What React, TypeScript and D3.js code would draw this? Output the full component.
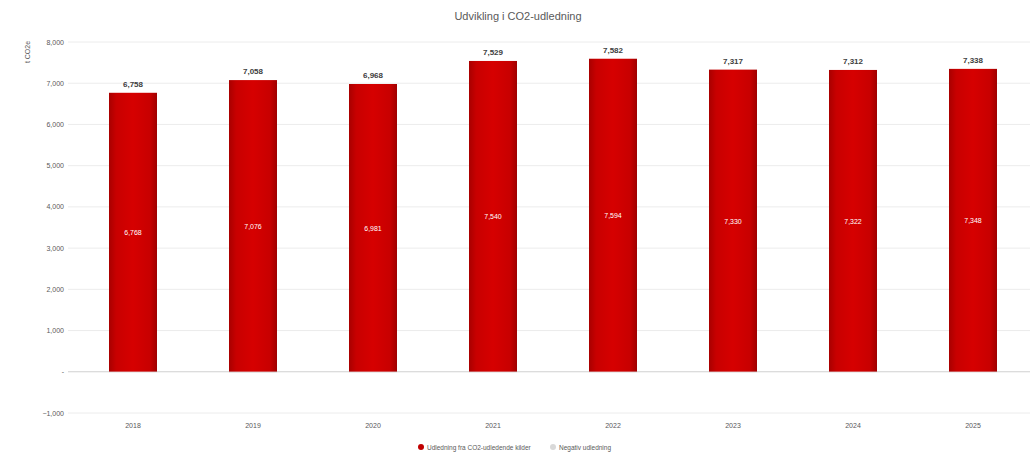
import React from "react";
import * as d3 from "d3";

const years = ["2018", "2019", "2020", "2021", "2022", "2023", "2024", "2025"];
const mainValues = [6768, 7076, 6981, 7540, 7594, 7330, 7322, 7348];
const negValues = [-10, -18, -13, -11, -12, -13, -10, -10];
const yTicks = [-1000, 0, 1000, 2000, 3000, 4000, 5000, 6000, 7000, 8000];
const seriesNames = ["Udledning fra CO2-udledende kilder", "Negativ udledning"];
const title = "Udvikling i CO2-udledning";
const yTitle = "t CO2e";

const W = 1034;
const H = 455;

export default function App() {
  const x = d3.scaleBand<string>().domain(years).range([73, 1033]).padding(0);
  const y = d3.scaleLinear().domain([-1000, 8000]).range([413, 42]);
  const fmt = (v: number) => d3.format(",")(v);
  const bw = x.bandwidth() * 0.4;
  const totals = mainValues.map((v, i) => v + negValues[i]);

  return (
    <svg
      width={W}
      height={H}
      style={{ position: "absolute", left: 0, top: 0, background: "#fff", fontFamily: "Liberation Sans, Arial, sans-serif" }}
    >
      <defs>
        <linearGradient id="barg" x1="0" x2="1" y1="0" y2="0">
          <stop offset="0" stopColor="#a80000" />
          <stop offset="0.15" stopColor="#c80000" />
          <stop offset="0.5" stopColor="#d60000" />
          <stop offset="0.85" stopColor="#c80000" />
          <stop offset="1" stopColor="#a00000" />
        </linearGradient>
      </defs>
      <text x={518} y={20} textAnchor="middle" fontSize={11} fill="#595959">
        {title}
      </text>
      <text transform={`translate(30,52) rotate(-90)`} textAnchor="middle" fontSize={7} fill="#595959">
        {yTitle}
      </text>
      {yTicks.map((t) => (
        <g key={t}>
          <line x1={68} x2={1030} y1={y(t)} y2={y(t)} stroke={t === 0 ? "#d0d0d0" : "#ececec"} strokeWidth={1} />
          <text x={64} y={y(t) + 2.5} textAnchor="end" fontSize={7} fill="#595959">
            {t === 0 ? "-" : fmt(t)}
          </text>
        </g>
      ))}
      {years.map((yr, i) => {
        const cx = (x(yr) as number) + x.bandwidth() / 2;
        return (
          <g key={yr}>
            <rect
              x={cx - bw / 2}
              y={y(mainValues[i])}
              width={bw}
              height={y(0) - y(mainValues[i])}
              fill="url(#barg)"
            />
            <rect
              x={cx - bw / 2}
              y={y(0)}
              width={bw}
              height={y(negValues[i]) - y(0)}
              fill="#d9d9d9"
            />
            <text
              x={cx}
              y={(y(mainValues[i]) + y(0)) / 2 + 3}
              textAnchor="middle"
              fontSize={7}
              fill="#ffffff"
            >
              {fmt(mainValues[i])}
            </text>
            <text x={cx} y={y(mainValues[i]) - 6} textAnchor="middle" fontSize={8} fontWeight="bold" fill="#404040">
              {fmt(totals[i])}
            </text>
            <text x={cx} y={428} textAnchor="middle" fontSize={7} fill="#595959">
              {yr}
            </text>
          </g>
        );
      })}
      <g>
        <circle cx={421} cy={447} r={3} fill="#c00000" />
        <text x={427} y={449.5} fontSize={6.5} fill="#595959">
          {seriesNames[0]}
        </text>
        <circle cx={553} cy={447} r={3} fill="#d9d9d9" />
        <text x={559} y={449.5} fontSize={6.5} fill="#595959">
          {seriesNames[1]}
        </text>
      </g>
    </svg>
  );
}
